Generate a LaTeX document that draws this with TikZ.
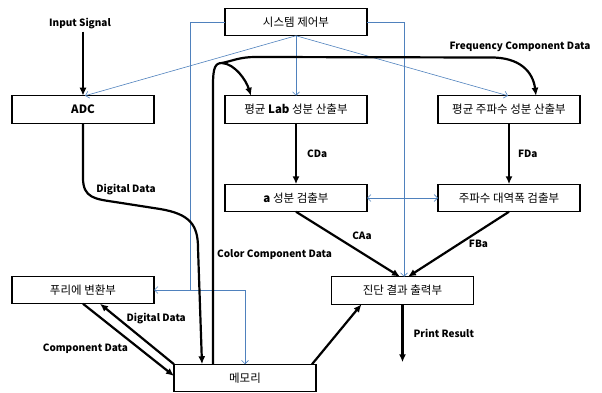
\documentclass[tikz,border=0pt]{standalone}
\usepackage{fontspec}
\setmainfont{Noto Sans CJK KR}
\usetikzlibrary{arrows.meta}
\usetikzlibrary{positioning}
\definecolor{ctlblue}{RGB}{79,129,189}

\begin{document}
\begin{tikzpicture}[x=1pt, y=-1pt,
        node distance = 60pt and 71pt,
        box/.style = {draw, line width=1.1pt, fill=white, inner sep=0pt, outer sep=0pt,
            minimum width=142pt, minimum height=27.5pt,
            font=\fontsize{11.5}{13}\selectfont},
        flow/.style = {line width=2.2pt, -{Latex[length=8pt,width=7pt]}},
        ctl/.style = {draw=ctlblue, line width=0.6pt,
            -{Straight Barb[length=3.5pt,width=7pt]}},
        ctlboth/.style = {ctl, {Straight Barb[length=3.5pt,width=7pt]}-{Straight Barb[length=3.5pt,width=7pt]}},
        lbl/.style = {font=\fontsize{10}{12}\selectfont\bfseries, inner sep=2pt}]
    \useasboundingbox (0,0) rectangle (602,393);
    \node[box] (sys) at (296,22) {시스템 제어부};
    \node[box, below=of sys] (lab) {평균 \textbf{Lab} 성분 산출부};
    \node[box, left=of lab] (adc) {\textbf{ADC}};
    \node[box, right=of lab] (freq) {평균 주파수 성분 산출부};
    \node[box, below=61pt of lab] (acomp) {\textbf{a} 성분 검출부};
    \node[box, below=61pt of freq] (band) {주파수 대역폭 검출부};
    \node[box, below=153pt of adc] (fourier) {푸리에 변환부};
    \node[box, below=65pt of acomp, xshift=106.5pt] (diag) {진단 결과 출력부};
    \node[box, below=of diag, xshift=-157.5pt] (mem) {메모리};
    \node[lbl] (input) at (80,24) {Input Signal};

    % control lines
    \draw[ctl] (sys.south) -- ([xshift=2pt]adc.north);
    \draw[ctl] (sys.south) -- (lab.north);
    \draw[ctl] (sys.south) -- ([xshift=-1pt]freq.north);
    \coordinate (fork) at ([xshift=36pt]fourier.east);
    \draw[ctl] (sys.west) -| (fork) -- (fourier.east);
    \draw[ctl] (fork) -| (mem.north);
    \draw[ctl] (sys.east) -| ([xshift=1.5pt]diag.north);
    \draw[ctlboth] (acomp.east) -- (band.west);

    % data flow
    \draw[flow] (input.south -| adc.north) -- (adc.north);
    \draw[flow] (adc.south) -- (83,178) .. controls (83,198) and (95,199) .. (115,202)
        -- (160,209) .. controls (190,214) and (198,225) .. (198,248)
        -- ([xshift=28pt]mem.north west);
    \node[lbl] (ddlbl) at (126,190) {Digital Data};
    \coordinate (split) at (222,63);
    \draw[flow] ([xshift=39pt]mem.north west) -- (213,85) .. controls (213,68) and (215,63) .. (split)
        .. controls (232,61) and (240,57) .. (255,57) -- (490,57.5)
        .. controls (520,57) and (533,72) .. ([xshift=27pt]freq.north);
    \draw[flow] (split) .. controls (235,64) and (246,80) .. ([xshift=-45pt]lab.north);
    \node[lbl, anchor=west] (cclbl) at (215,255) {Color Component Data};
    \node[lbl] (fclbl) at (520,47) {Frequency Component Data};
    \draw[flow] (lab) -- (acomp) node[lbl, midway, right=8pt] {CDa};
    \draw[flow] (freq) -- (band) node[lbl, midway, right=6pt] {FDa};
    \draw[flow] (acomp.south) -- ([xshift=-2.5pt]diag.north)
        node[lbl, midway, xshift=14pt, yshift=8.5pt] {CAa};
    \draw[flow] (band.south) -- ([xshift=5.5pt]diag.north)
        node[lbl, midway, xshift=20pt] {FBa};
    \coordinate (printout) at ([yshift=-58pt]diag.south);
    \draw[flow] (diag.south) -- (printout) node[lbl, midway, right=8pt] {Print Result};
    \draw[flow] ([xshift=-4pt]mem.north east) -- ([xshift=30pt]diag.south west);
    \draw[flow] (fourier.south) -- ([yshift=2pt]mem.west)
        node[lbl, pos=0.55, left, xshift=-2pt, yshift=-5pt] {Component Data};
    \draw[flow] (mem.north west) -- ([xshift=17pt]fourier.south)
        node[lbl, pos=0.75, right, xshift=5pt] {Digital Data};
\end{tikzpicture}
\end{document}
